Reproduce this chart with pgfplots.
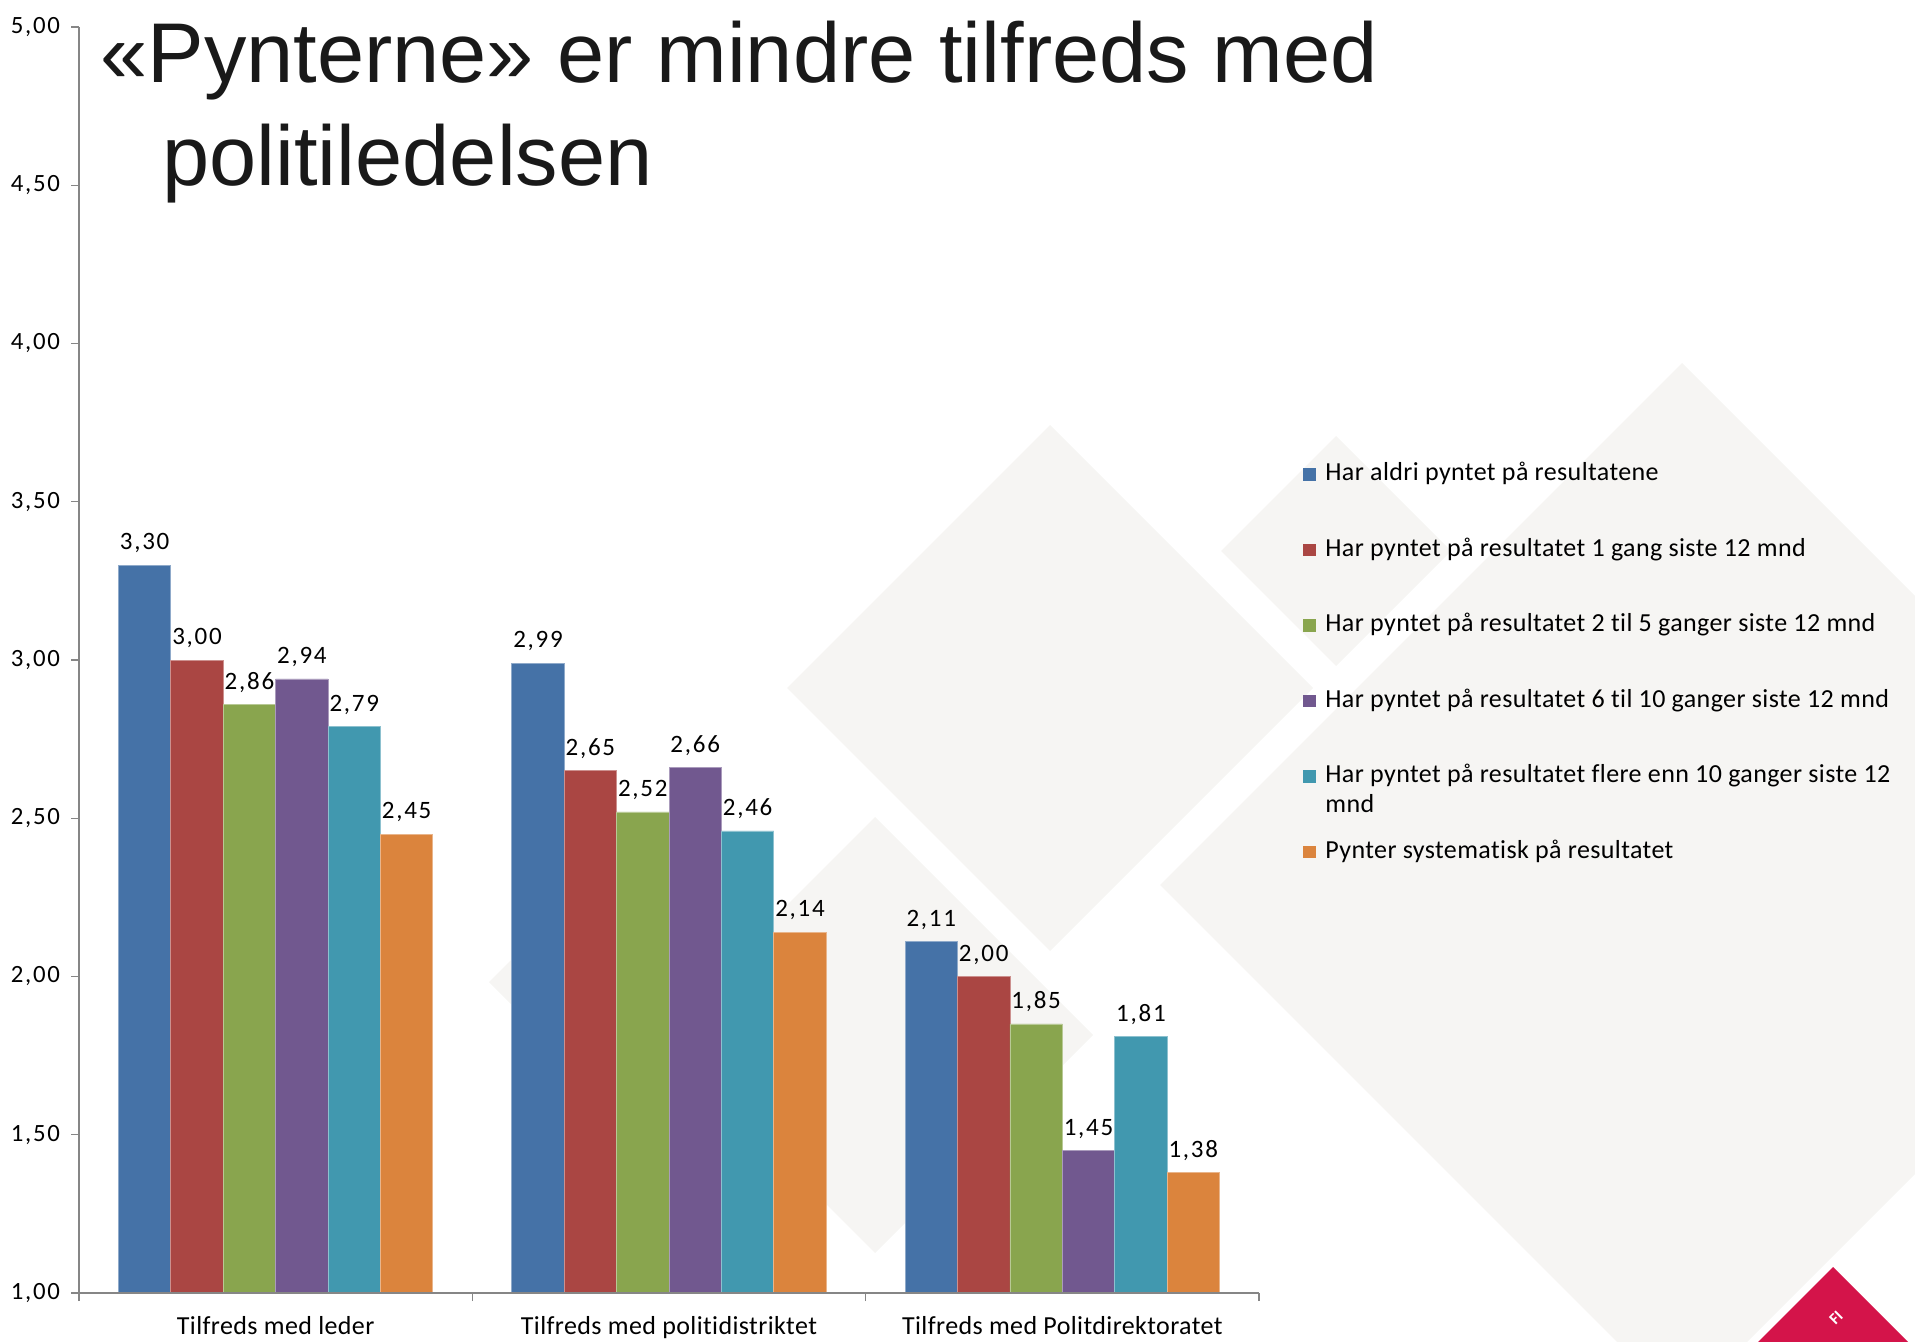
\documentclass[border=0pt]{standalone}
\usepackage{pgfplots}
\pgfplotsset{compat=1.18}
\usepackage{fontspec}
\setmainfont{Carlito}[LetterSpace=1.5, Ligatures=NoCommon]
\newfontfamily\numfont{Carlito}[LetterSpace=7]
\newfontfamily\titlefont{Liberation Sans}

\definecolor{sBlue}{HTML}{4572A7}
\definecolor{sRed}{HTML}{AA4643}
\definecolor{sGreen}{HTML}{89A54E}
\definecolor{sPurple}{HTML}{71588F}
\definecolor{sTeal}{HTML}{4198AF}
\definecolor{sOrange}{HTML}{DB843D}
\definecolor{bgshape}{HTML}{F6F5F3}
\definecolor{axisgray}{HTML}{868686}
\definecolor{logored}{HTML}{D4144A}

% diamond: centre x, centre y, half diagonal (slide pixels)
\newcommand\diamondat[3]{\fill[bgshape] (#1-#3,#2) -- (#1,#2-#3) -- (#1+#3,#2) -- (#1,#2+#3) -- cycle;}

\begin{document}
\begin{tikzpicture}
\path[use as bounding box] (0,0) rectangle (957.5pt,670.5pt);

% slide background, in pixels of the 1915x1341 slide
\begin{scope}[x=0.5pt, y=-0.5pt, shift={(0pt,670.5pt)}]
  \diamondat{1682}{885}{522}
  \diamondat{1050}{688}{263}
  \diamondat{1336}{551}{115}
  \diamondat{875}{1035}{218}
  \diamondat{640}{982}{151}
  \fill[logored] (1833,1267) -- (1920,1354) -- (1746,1354) -- cycle;
  \node[white, rotate=45, font=\bfseries\fontsize{8}{8}\selectfont] at (1836,1318) {FI};
\end{scope}

\begin{axis}[
  at={(39.5pt,24pt)}, anchor=south west,
  scale only axis, width=590pt, height=633pt,
  /pgf/number format/use comma,
  /pgf/number format/fixed,
  /pgf/number format/fixed zerofill,
  /pgf/number format/precision=2,
  /pgf/number format/assume math mode=true,
  ybar=0pt, bar width=26.2pt,
  xmin=-0.5, xmax=2.5, ymin=1, ymax=5,
  ytick={1,1.5,2,2.5,3,3.5,4,4.5,5},
  xtick={0,1,2},
  xticklabels={Tilfreds med leder, Tilfreds med politidistriktet, Tilfreds med Politdirektoratet},
  minor xtick={-0.5,0.5,1.5,2.5},
  major x tick style={draw=none},
  major tick length=4pt, minor tick length=4pt,
  tick align=outside,
  axis x line*=bottom, axis y line*=left,
  axis line style={axisgray, line width=0.6pt, -},
  every tick/.style={axisgray, line width=0.6pt},
  axis on top,
  yticklabel style={font=\numfont\fontsize{12.4}{14}\selectfont, xshift=-2pt},
  xticklabel style={font=\fontsize{13}{15}\selectfont, yshift=-4pt},
  nodes near coords,
  every node near coord/.append style={font=\numfont\fontsize{12.5}{14}\selectfont, black, yshift=2.5pt},
]
\addplot[fill=sBlue, draw=sBlue!60!white] coordinates {(0,3.30) (1,2.99) (2,2.11)};
\addplot[fill=sRed, draw=sRed!60!white] coordinates {(0,3.00) (1,2.65) (2,2.00)};
\addplot[fill=sGreen, draw=sGreen!60!white] coordinates {(0,2.86) (1,2.52) (2,1.85)};
\addplot[fill=sPurple, draw=sPurple!60!white] coordinates {(0,2.94) (1,2.66) (2,1.45)};
\addplot[fill=sTeal, draw=sTeal!60!white] coordinates {(0,2.79) (1,2.46) (2,1.81)};
\addplot[fill=sOrange, draw=sOrange!60!white] coordinates {(0,2.45) (1,2.14) (2,1.38)};
\end{axis}

% title and legend, in slide pixels
\begin{scope}[x=0.5pt, y=-0.5pt, shift={(0pt,670.5pt)}]
  \node[anchor=base west, inner sep=0pt, font=\titlefont\fontsize{42.4}{42}\selectfont, black!90]
    at (100,83) {«Pynterne» er mindre tilfreds med};
  \node[anchor=base west, inner sep=0pt, font=\titlefont\fontsize{42.4}{42}\selectfont, black!90]
    at (162,186) {politiledelsen};

  \begin{scope}[font=\fontsize{13}{15}\selectfont]
    \fill[sBlue]   (1303,468.2) rectangle (1315.5,480.7);
    \node[anchor=base west, inner sep=0pt] at (1325,480.7) {Har aldri pyntet på resultatene};
    \fill[sRed]    (1303,543.7) rectangle (1315.5,556.2);
    \node[anchor=base west, inner sep=0pt] at (1325,556.2) {Har pyntet på resultatet 1 gang siste 12 mnd};
    \fill[sGreen]  (1303,619.2) rectangle (1315.5,631.7);
    \node[anchor=base west, inner sep=0pt] at (1325,631.7) {Har pyntet på resultatet 2 til 5 ganger siste 12 mnd};
    \fill[sPurple] (1303,694.7) rectangle (1315.5,707.2);
    \node[anchor=base west, inner sep=0pt] at (1325,707.2) {Har pyntet på resultatet 6 til 10 ganger siste 12 mnd};
    \fill[sTeal]   (1303,770.2) rectangle (1315.5,782.7);
    \node[anchor=base west, inner sep=0pt] at (1325,782.7) {Har pyntet på resultatet flere enn 10 ganger siste 12};
    \node[anchor=base west, inner sep=0pt] at (1325,812.7) {mnd};
    \fill[sOrange] (1303,845.7) rectangle (1315.5,858.2);
    \node[anchor=base west, inner sep=0pt] at (1325,858.2) {Pynter systematisk på resultatet};
  \end{scope}
\end{scope}
\end{tikzpicture}
\end{document}
